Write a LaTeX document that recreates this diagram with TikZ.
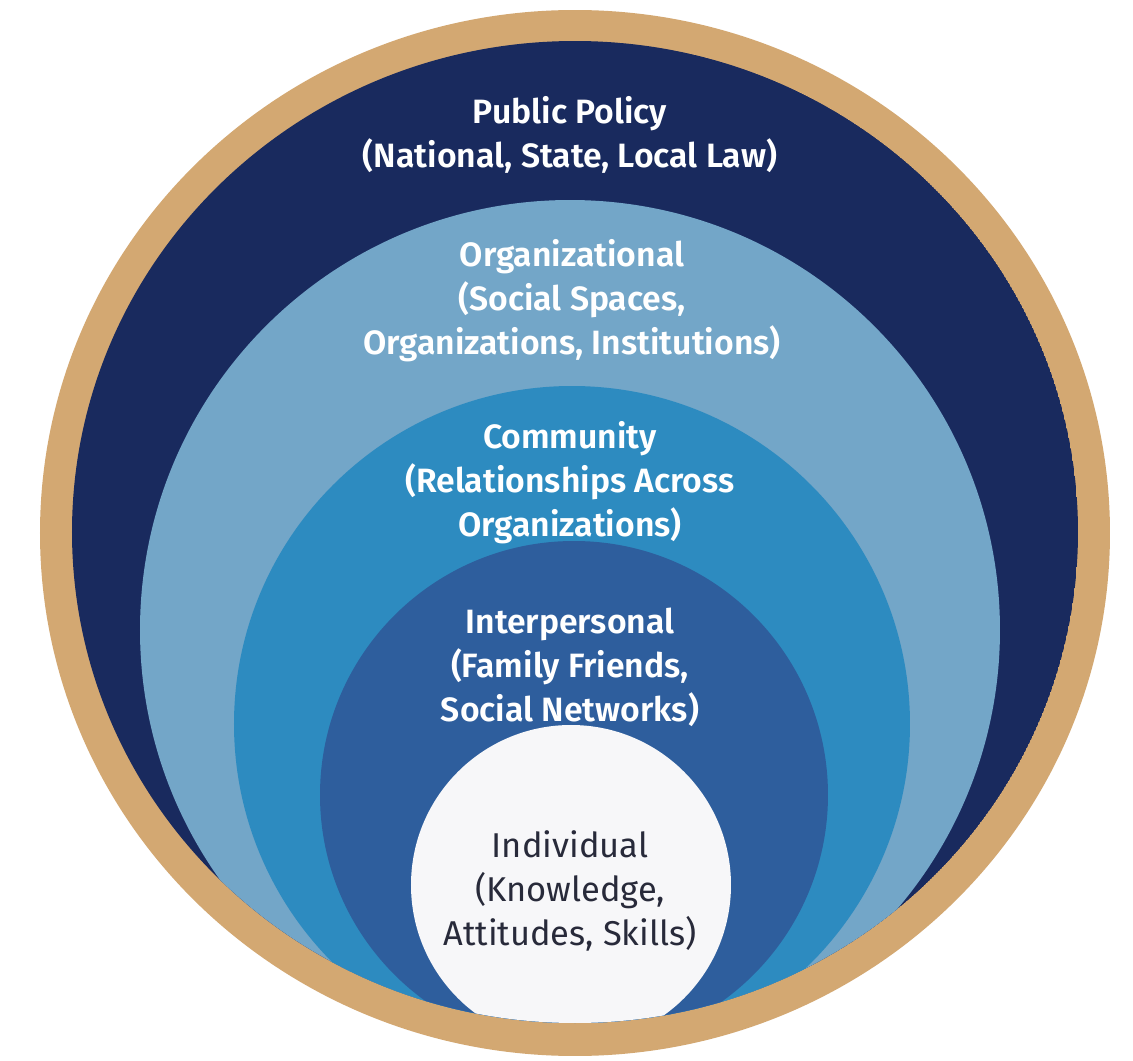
\documentclass[tikz,border=0pt]{standalone}
\usepackage{fontspec}
\setmainfont{Fira Sans}[BoldFont={Fira Sans SemiBold}]
\usepackage{xcolor}
\usepackage{tikz}
\definecolor{ringgold}{RGB}{211,168,114}
\definecolor{policynavy}{RGB}{25,42,94}
\definecolor{orgblue}{RGB}{115,166,200}
\definecolor{commblue}{RGB}{45,139,192}
\definecolor{interblue}{RGB}{46,94,157}
\definecolor{indwhite}{RGB}{247,247,249}
\definecolor{inktext}{RGB}{40,42,58}

\begin{document}
\begin{tikzpicture}[
  lbl/.style={align=center, text=white, font=\fontsize{9.6}{12.5}\selectfont\bfseries},
  indlbl/.style={lbl, text=inktext, font=\fontsize{9.8}{12.5}\selectfont}
]

%% Frame
\fill[white] (0,0) rectangle (11.33,10.61);
\useasboundingbox (0,0) rectangle (11.33,10.61);

%% Gold ring
\fill[ringgold] (5.75,5.28) ellipse [x radius=5.35, y radius=5.23];

%% Levels, cut off by the navy disc
\begin{scope}
  \clip (5.75,5.29) ellipse [x radius=5.03, y radius=4.91];
  \fill[policynavy] (5.75,5.29) ellipse [x radius=5.03, y radius=4.91];
  \fill[orgblue]   (5.70,4.31) circle (4.30);
  \fill[commblue]  (5.72,3.37) circle (3.38);
  \fill[interblue] (5.74,2.66) circle (2.54);
  \fill[indwhite]  (5.71,1.76) circle (1.60);
\end{scope}

%% Labels
\node[lbl] (policy) at (5.70,9.26) {Public Policy\\(National, State, Local Law)};
\node[lbl] (org) at (5.72,7.60) {Organizational\\(Social Spaces,\\Organizations, Institutions)};
\node[lbl] (comm) at (5.70,5.78) {Community\\(Relationships Across\\Organizations)};
\node[lbl] (inter) at (5.70,3.94) {Interpersonal\\(Family Friends,\\Social Networks)};
\node[indlbl] (indiv) at (5.70,1.70) {Individual\\(Knowledge,\\Attitudes, Skills)};

\end{tikzpicture}
\end{document}
